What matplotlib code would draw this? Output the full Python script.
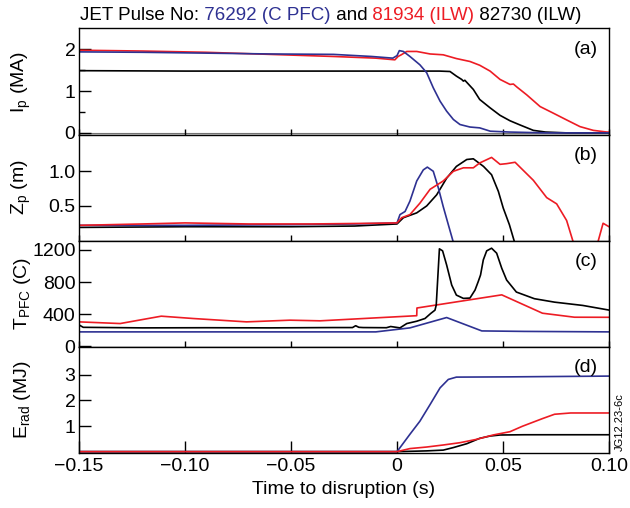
import numpy as np
import matplotlib
matplotlib.use("Agg")
import matplotlib.pyplot as plt
from matplotlib.ticker import MultipleLocator, FixedLocator

plt.rcParams['font.family'] = ['Liberation Sans', 'DejaVu Sans']
plt.rcParams['mathtext.fontset'] = 'custom'
plt.rcParams['mathtext.rm'] = 'Liberation Sans'
plt.rcParams['mathtext.it'] = 'Liberation Sans:italic'
plt.rcParams['axes.unicode_minus'] = True

BLUE = '#2E3192'
RED = '#ED1C24'
BLACK = 'black'
FS = 14

# ---- (a) plasma current Ip (MA)
t_ip_blue = [-0.15, -0.12, -0.09, -0.06, -0.03, -0.012, -0.002, 0.0, 0.0011, 0.003, 0.0061,
             0.0108, 0.014, 0.0171, 0.0203, 0.0234, 0.0266, 0.0297, 0.0344, 0.039, 0.044,
             0.053, 0.07, 0.10]
ip_blue = [1.94, 1.93, 1.91, 1.89, 1.88, 1.83, 1.79, 1.85, 1.97, 1.95, 1.83,
           1.63, 1.44, 1.08, 0.76, 0.52, 0.32, 0.20, 0.14, 0.12, 0.04,
           0.02, 0.0, 0.0]
t_ip_red = [-0.15, -0.12, -0.09, -0.06, -0.03, -0.01, -0.001, 0.0005, 0.002, 0.0046, 0.0093,
            0.0156, 0.0218, 0.028, 0.0344, 0.039, 0.0439, 0.0486, 0.0533, 0.0549, 0.0565,
            0.0612, 0.0675, 0.0738, 0.08, 0.0863, 0.0926, 0.099, 0.10]
ip_red = [1.98, 1.96, 1.93, 1.88, 1.83, 1.79, 1.75, 1.83, 1.87, 1.95, 1.95,
          1.89, 1.87, 1.78, 1.71, 1.62, 1.48, 1.28, 1.16, 1.17, 1.10,
          0.91, 0.63, 0.47, 0.31, 0.15, 0.06, 0.02, 0.02]
t_ip_black = [-0.15, -0.10, -0.05, 0.0, 0.02, 0.025, 0.028, 0.0305, 0.0313, 0.032, 0.036,
              0.039, 0.0439, 0.0486, 0.0533, 0.058, 0.0643, 0.07, 0.08, 0.10]
ip_black = [1.49, 1.48, 1.48, 1.48, 1.48, 1.47, 1.36, 1.28, 1.24, 1.26, 1.04,
            0.80, 0.60, 0.42, 0.29, 0.19, 0.06, 0.02, 0.0, 0.0]

# ---- (b) vertical position Zp (m)
t_zp_blue = [-0.15, -0.10, -0.05, -0.02, 0.0, 0.0014, 0.0038, 0.0061, 0.0093, 0.0124,
             0.0143, 0.0171, 0.0195, 0.0218, 0.0242, 0.0268]
zp_blue = [0.22, 0.22, 0.23, 0.24, 0.255, 0.375, 0.42, 0.57, 0.86, 1.02,
           1.06, 1.0, 0.76, 0.49, 0.23, -0.05]
t_zp_red = [-0.15, -0.12, -0.10, -0.07, -0.04, -0.01, 0.0, 0.0022, 0.0061, 0.0108, 0.0156,
            0.0218, 0.0266, 0.0313, 0.036, 0.039, 0.0446, 0.0486, 0.0517, 0.0557, 0.058,
            0.0643, 0.0706, 0.0753, 0.08, 0.0829, 0.0835, np.nan, 0.0945, 0.0972, 0.10]
zp_red = [0.22, 0.24, 0.255, 0.24, 0.24, 0.25, 0.255, 0.33, 0.375, 0.54, 0.74,
          0.86, 1.0, 1.05, 1.05, 1.12, 1.20, 1.10, 1.11, 1.13, 1.06,
          0.87, 0.62, 0.53, 0.29, 0.0, -0.05, np.nan, -0.05, 0.25, 0.20]
t_zp_black = [-0.15, -0.10, -0.05, -0.02, 0.0, 0.003, 0.0093, 0.014, 0.0187, 0.0234, 0.028,
              0.0329, 0.036, 0.0408, 0.0446, 0.0478, 0.0501, 0.053, 0.0557]
zp_black = [0.19, 0.20, 0.20, 0.21, 0.24, 0.33, 0.40, 0.50, 0.66, 0.90, 1.07,
            1.17, 1.18, 1.07, 0.95, 0.71, 0.47, 0.23, -0.05]

# ---- (c) PFC temperature (C)
t_tp_blue = [-0.15, -0.10, -0.05, -0.01, 0.0061, 0.0234, 0.040, 0.06, 0.10]
tp_blue = [178, 178, 178, 178, 228, 357, 190, 184, 178]
t_tp_red = [-0.15, -0.1306, -0.1112, -0.0962, -0.071, -0.0505, -0.0363, 0.0093, 0.0094,
            0.0494, 0.0686, 0.0837, 0.10]
tp_red = [303, 282, 374, 345, 303, 324, 316, 380, 476, 640, 411, 361, 360]
t_tp_black = [-0.15, -0.148, -0.12, -0.09, -0.06, -0.03, -0.021, -0.0195, -0.018, -0.016,
              -0.005, -0.003, 0.0014, 0.0046, 0.0093, 0.0132, 0.0159, 0.0179, 0.0185, 0.02,
              0.0215, 0.0234, 0.0258, 0.028, 0.0313, 0.0344, 0.0368, 0.0383, 0.0394, 0.0407,
              0.0423, 0.0446, 0.047, 0.0494, 0.0517, 0.0563, 0.0648, 0.0743, 0.0876, 0.10]
tp_black = [265, 235, 228, 230, 228, 232, 232, 255, 235, 232,
            230, 245, 228, 282, 311, 345, 408, 449, 512, 1214,
            1189, 1013, 762, 637, 596, 600, 700, 805, 888, 1076,
            1189, 1222, 1160, 972, 825, 675, 592, 549, 508, 450]

# ---- (d) radiated energy (MJ)
t_er_blue = [-0.15, 0.0, 0.0061, 0.0108, 0.0156, 0.0203, 0.0242, 0.028, 0.0533, 0.10]
er_blue = [0, 0, 0.68, 1.19, 1.84, 2.49, 2.82, 2.91, 2.92, 2.95]
t_er_red = [-0.15, 0.0, 0.0061, 0.0139, 0.0218, 0.0297, 0.0375, 0.0453, 0.0533, 0.0591,
            0.0686, 0.0743, 0.0819, 0.10]
er_red = [0, 0, 0.12, 0.18, 0.26, 0.35, 0.48, 0.65, 0.78, 0.99, 1.29, 1.46, 1.51, 1.51]
t_er_black = [-0.15, 0.0, 0.0139, 0.0218, 0.0266, 0.0329, 0.039, 0.0439, 0.0486, 0.06, 0.10]
er_black = [0, 0, 0.03, 0.06, 0.16, 0.31, 0.52, 0.61, 0.65, 0.66, 0.66]

panels = [
    ('(a)', r'I$_\mathrm{p}$ (MA)', (-0.04, 2.5), [0, 1, 2], [0.5, 1.5],
     [(t_ip_black, ip_black, BLACK), (t_ip_red, ip_red, RED), (t_ip_blue, ip_blue, BLUE)]),
    ('(b)', r'Z$_\mathrm{p}$ (m)', (0, 1.53), [0.5, 1.0], [],
     [(t_zp_black, zp_black, BLACK), (t_zp_blue, zp_blue, BLUE), (t_zp_red, zp_red, RED)]),
    ('(c)', r'T$_\mathrm{PFC}$ (C)', (-6, 1317), [0, 400, 800, 1200], [],
     [(t_tp_blue, tp_blue, BLUE), (t_tp_red, tp_red, RED), (t_tp_black, tp_black, BLACK)]),
    ('(d)', r'E$_\mathrm{rad}$ (MJ)', (-0.04, 4.1), [1, 2, 3], [],
     [(t_er_black, er_black, BLACK), (t_er_blue, er_blue, BLUE), (t_er_red, er_red, RED)]),
]

fig, axes = plt.subplots(4, 1, figsize=(6.3, 5.08), dpi=100, sharex=True)
fig.subplots_adjust(left=0.1254, right=0.9667, top=0.9439, bottom=0.1089, hspace=0)

for i, (ax, (tag, ylab, ylim, yt, ymt, series)) in enumerate(zip(axes, panels)):
    for t, v, c in series:
        ax.plot(t, v, color=c, lw=1.2)
    if i == 0:
        ax.axhline(0, color='0.45', lw=0.8, zorder=0)
    ax.set_xlim(-0.15, 0.10)
    ax.set_ylim(*ylim)
    ax.yaxis.set_major_locator(FixedLocator(yt))
    ax.yaxis.set_minor_locator(FixedLocator(ymt))
    ax.xaxis.set_major_locator(MultipleLocator(0.05))
    ax.tick_params(axis='y', which='major', direction='in', length=8.5, width=1,
                   labelsize=FS, pad=2.5)
    ax.tick_params(axis='y', which='minor', direction='in', length=4, width=1)
    xlen = 8.5 if i == 3 else 4.5
    ax.tick_params(axis='x', which='major', direction='in', length=xlen, width=1,
                   labelsize=FS, pad=4)
    for sp in ax.spines.values():
        sp.set_linewidth(1.0)
    ax.set_ylabel(ylab, fontsize=FS)
    ax.yaxis.set_label_coords(-0.087, 0.5)
    ax.text(0.979, 0.80, tag, transform=ax.transAxes, ha='right', va='center',
            fontsize=FS)

axes[-1].set_xticks([-0.15, -0.10, -0.05, 0, 0.05, 0.10])
axes[-1].set_xticklabels(['\u22120.15', '\u22120.10', '\u22120.05', '0', '0.05', '0.10'])
axes[-1].set_xlabel('Time to disruption (s)', fontsize=FS, labelpad=4)

# multi-coloured title
pieces = [('JET Pulse No:', BLACK), (' 76292 (C PFC)', BLUE), (' and', BLACK),
          (' 81934 (ILW)', RED), (' 82730 (ILW)', BLACK)]
prev = fig.text(0.127, 0.960, pieces[0][0], color=pieces[0][1], fontsize=13.5,
                ha='left', va='baseline')
for txt, col in pieces[1:]:
    prev = axes[0].annotate(txt, xy=(1, 0), xycoords=prev, color=col, fontsize=13.5,
                            ha='left', va='bottom', annotation_clip=False)

fig.text(0.983, 0.112, 'JG12.23-6c', rotation=90, fontsize=8, ha='center', va='bottom')

fig.savefig('out.png', dpi=100)
